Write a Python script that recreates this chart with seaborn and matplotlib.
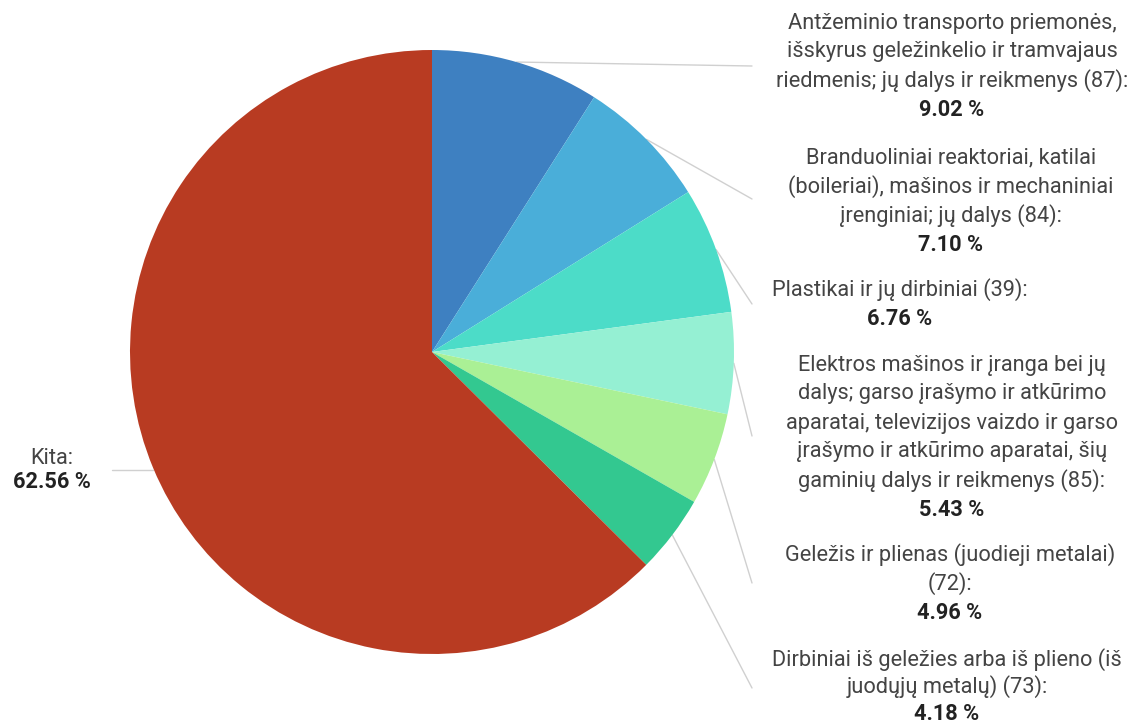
import numpy as np
import matplotlib
matplotlib.use("Agg")
import matplotlib.pyplot as plt
import seaborn as sns

sns.set_theme(style="white")
plt.rcParams['font.family'] = ['Roboto', 'DejaVu Sans']

# data
names = [
    "Antžeminio transporto priemonės,\nišskyrus geležinkelio ir tramvajaus\nriedmenis; jų dalys ir reikmenys (87):",
    "Branduoliniai reaktoriai, katilai\n(boileriai), mašinos ir mechaniniai\nįrenginiai; jų dalys (84):",
    "Plastikai ir jų dirbiniai (39):",
    "Elektros mašinos ir įranga bei jų\ndalys; garso įrašymo ir atkūrimo\naparatai, televizijos vaizdo ir garso\nįrašymo ir atkūrimo aparatai, šių\ngaminių dalys ir reikmenys (85):",
    "Geležis ir plienas (juodieji metalai)\n(72):",
    "Dirbiniai iš geležies arba iš plieno (iš\njuodųjų metalų) (73):",
    "Kita:",
]
shares = [9.02, 7.10, 6.76, 5.43, 4.96, 4.18, 62.56]
colors = ["#3e80c1", "#4aaed9", "#4cdcc8", "#95f0d3", "#aaf095", "#33c890", "#b83b22"]

W, H = 1135, 726
fig = plt.figure(figsize=(W / 100, H / 100), dpi=100)
ax = fig.add_axes([0, 0, 1, 1])

cx, cy, r = 432, H - 352, 302
wedges, _ = ax.pie(shares, colors=colors, startangle=90, counterclock=False,
                   center=(cx, cy), radius=r, frame=True,
                   wedgeprops=dict(linewidth=0))
ax.set_xlim(0, W)
ax.set_ylim(0, H)
ax.axis("off")

# label layout: (x center, first line y from top, line spacing, line end x, line end y from top)
layout = [
    (952, 23, 29, 752, 66),
    (951, 158, 29, 752, 199),
    (900, 290, 29, 752, 304),
    (952, 365, 29, 752, 436),
    (950, 555, 29, 752, 583),
    (947, 660, 27, 752, 688),
    (52, 458, 24, 112, 470),
]

for w, name, share, (lx, ly, sp, ex, ey) in zip(wedges, names, shares, layout):
    mid = np.deg2rad((w.theta1 + w.theta2) / 2)
    sx, sy = cx + r * np.cos(mid), cy + r * np.sin(mid)
    if ex < cx:
        ax.plot([ex, sx], [H - ey, H - ey], color="#d0d0d0", lw=1, zorder=0)
    else:
        ax.plot([sx, ex], [sy, H - ey], color="#d0d0d0", lw=1, zorder=0)
    lines = name.split("\n")
    for i, t in enumerate(lines):
        ax.text(lx, H - (ly + i * sp), t, ha="center", va="center",
                fontsize=15.7, color="#444444")
    ax.text(lx, H - (ly + len(lines) * sp), f"{share:.2f} %", ha="center",
            va="center", fontsize=15.7, fontweight="bold", color="#222222")

fig.savefig("out.png", dpi=100)
